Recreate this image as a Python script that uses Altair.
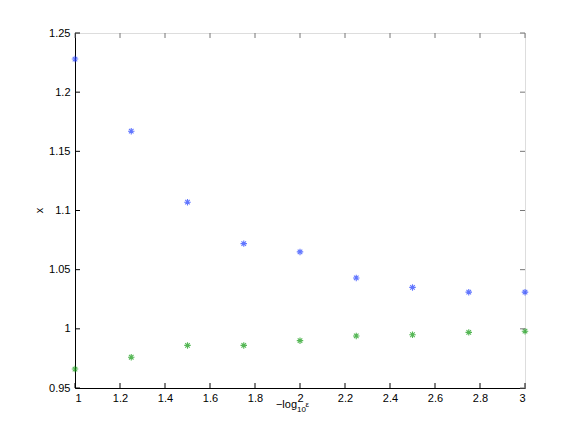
import altair as alt
import pandas as pd

# data
eps = [1.0, 1.25, 1.5, 1.75, 2.0, 2.25, 2.5, 2.75, 3.0]
series_blue = [1.228, 1.167, 1.107, 1.072, 1.065, 1.043, 1.035, 1.031, 1.031]
series_green = [0.966, 0.976, 0.986, 0.986, 0.990, 0.994, 0.995, 0.997, 0.998]
x_ticks = [1.0, 1.2, 1.4, 1.6, 1.8, 2.0, 2.2, 2.4, 2.6, 2.8, 3.0]
y_ticks = [0.95, 1.0, 1.05, 1.1, 1.15, 1.2, 1.25]

W, H = 450, 355
FONT = "Liberation Sans"
STAR = "M-1,0L1,0M0,-1L0,1M-0.7,-0.7L0.7,0.7M-0.7,0.7L0.7,-0.7"

df = pd.DataFrame({
    "e": eps * 2,
    "v": series_blue + series_green,
    "s": ["b"] * len(eps) + ["g"] * len(eps),
})

xs = alt.Scale(domain=[1, 3], nice=False, zero=False)
ys = alt.Scale(domain=[0.95, 1.25], nice=False, zero=False)

xaxis = alt.Axis(values=x_ticks, ticks=False, tickSize=0, grid=False, domainColor="black",
                 labelFont=FONT, labelFontSize=11, labelColor="black", labelPadding=4,
                 title=None, labelExpr="format(datum.value, '.2~f')")
yaxis = alt.Axis(values=y_ticks, ticks=False, tickSize=0, grid=False, domainColor="black",
                 labelFont=FONT, labelFontSize=11, labelColor="black", labelPadding=5,
                 title=None, labelExpr="format(datum.value, '.2~f')")

points = alt.Chart(df).mark_point(shape=STAR, size=42, strokeWidth=1.1, filled=False).encode(
    x=alt.X("e:Q", scale=xs, axis=xaxis),
    y=alt.Y("v:Q", scale=ys, axis=yaxis),
    color=alt.Color("s:N", scale=alt.Scale(domain=["b", "g"], range=["#1f3dff", "#0f9a0f"]), legend=None),
)

xt = pd.DataFrame({"t": x_ticks})
yt = pd.DataFrame({"t": y_ticks})

bt = alt.Chart(xt).mark_rule(color="black", strokeWidth=1).encode(
    x=alt.X("t:Q", scale=xs), y=alt.value(H - 5), y2=alt.value(H))
tt = alt.Chart(xt).mark_rule(color="#777", strokeWidth=1).encode(
    x=alt.X("t:Q", scale=xs), y=alt.value(0), y2=alt.value(5))
lt = alt.Chart(yt).mark_rule(color="black", strokeWidth=1).encode(
    y=alt.Y("t:Q", scale=ys), x=alt.value(0), x2=alt.value(5))
rt = alt.Chart(yt).mark_rule(color="#777", strokeWidth=1).encode(
    y=alt.Y("t:Q", scale=ys), x=alt.value(W - 5), x2=alt.value(W))

lab = pd.DataFrame({"a": [0]})
ylab = alt.Chart(lab).mark_text(font=FONT, fontSize=11, angle=270, color="black").encode(
    x=alt.value(-35), y=alt.value(H / 2), text=alt.value("x"))
xl1 = alt.Chart(lab).mark_text(font=FONT, fontSize=11, align="right", baseline="alphabetic", color="black").encode(
    x=alt.value(222), y=alt.value(375), text=alt.value("−log"))
xl2 = alt.Chart(lab).mark_text(font=FONT, fontSize=8, align="left", baseline="alphabetic", color="black").encode(
    x=alt.value(222), y=alt.value(379), text=alt.value("10"))
xl3 = alt.Chart(lab).mark_text(font=FONT, fontSize=8, align="left", baseline="alphabetic", color="black").encode(
    x=alt.value(230.5), y=alt.value(373.5), text=alt.value("ε"))

chart = alt.layer(points, bt, tt, lt, rt, ylab, xl1, xl2, xl3).properties(
    width=W, height=H,
    autosize=alt.AutoSizeParams(type="none"),
    padding={"left": 67, "top": 25, "right": 48, "bottom": 41},
).configure_view(stroke="#777", strokeWidth=1).configure(background="white")

chart.save("out.html", embed_options={"renderer": "svg", "actions": False})
